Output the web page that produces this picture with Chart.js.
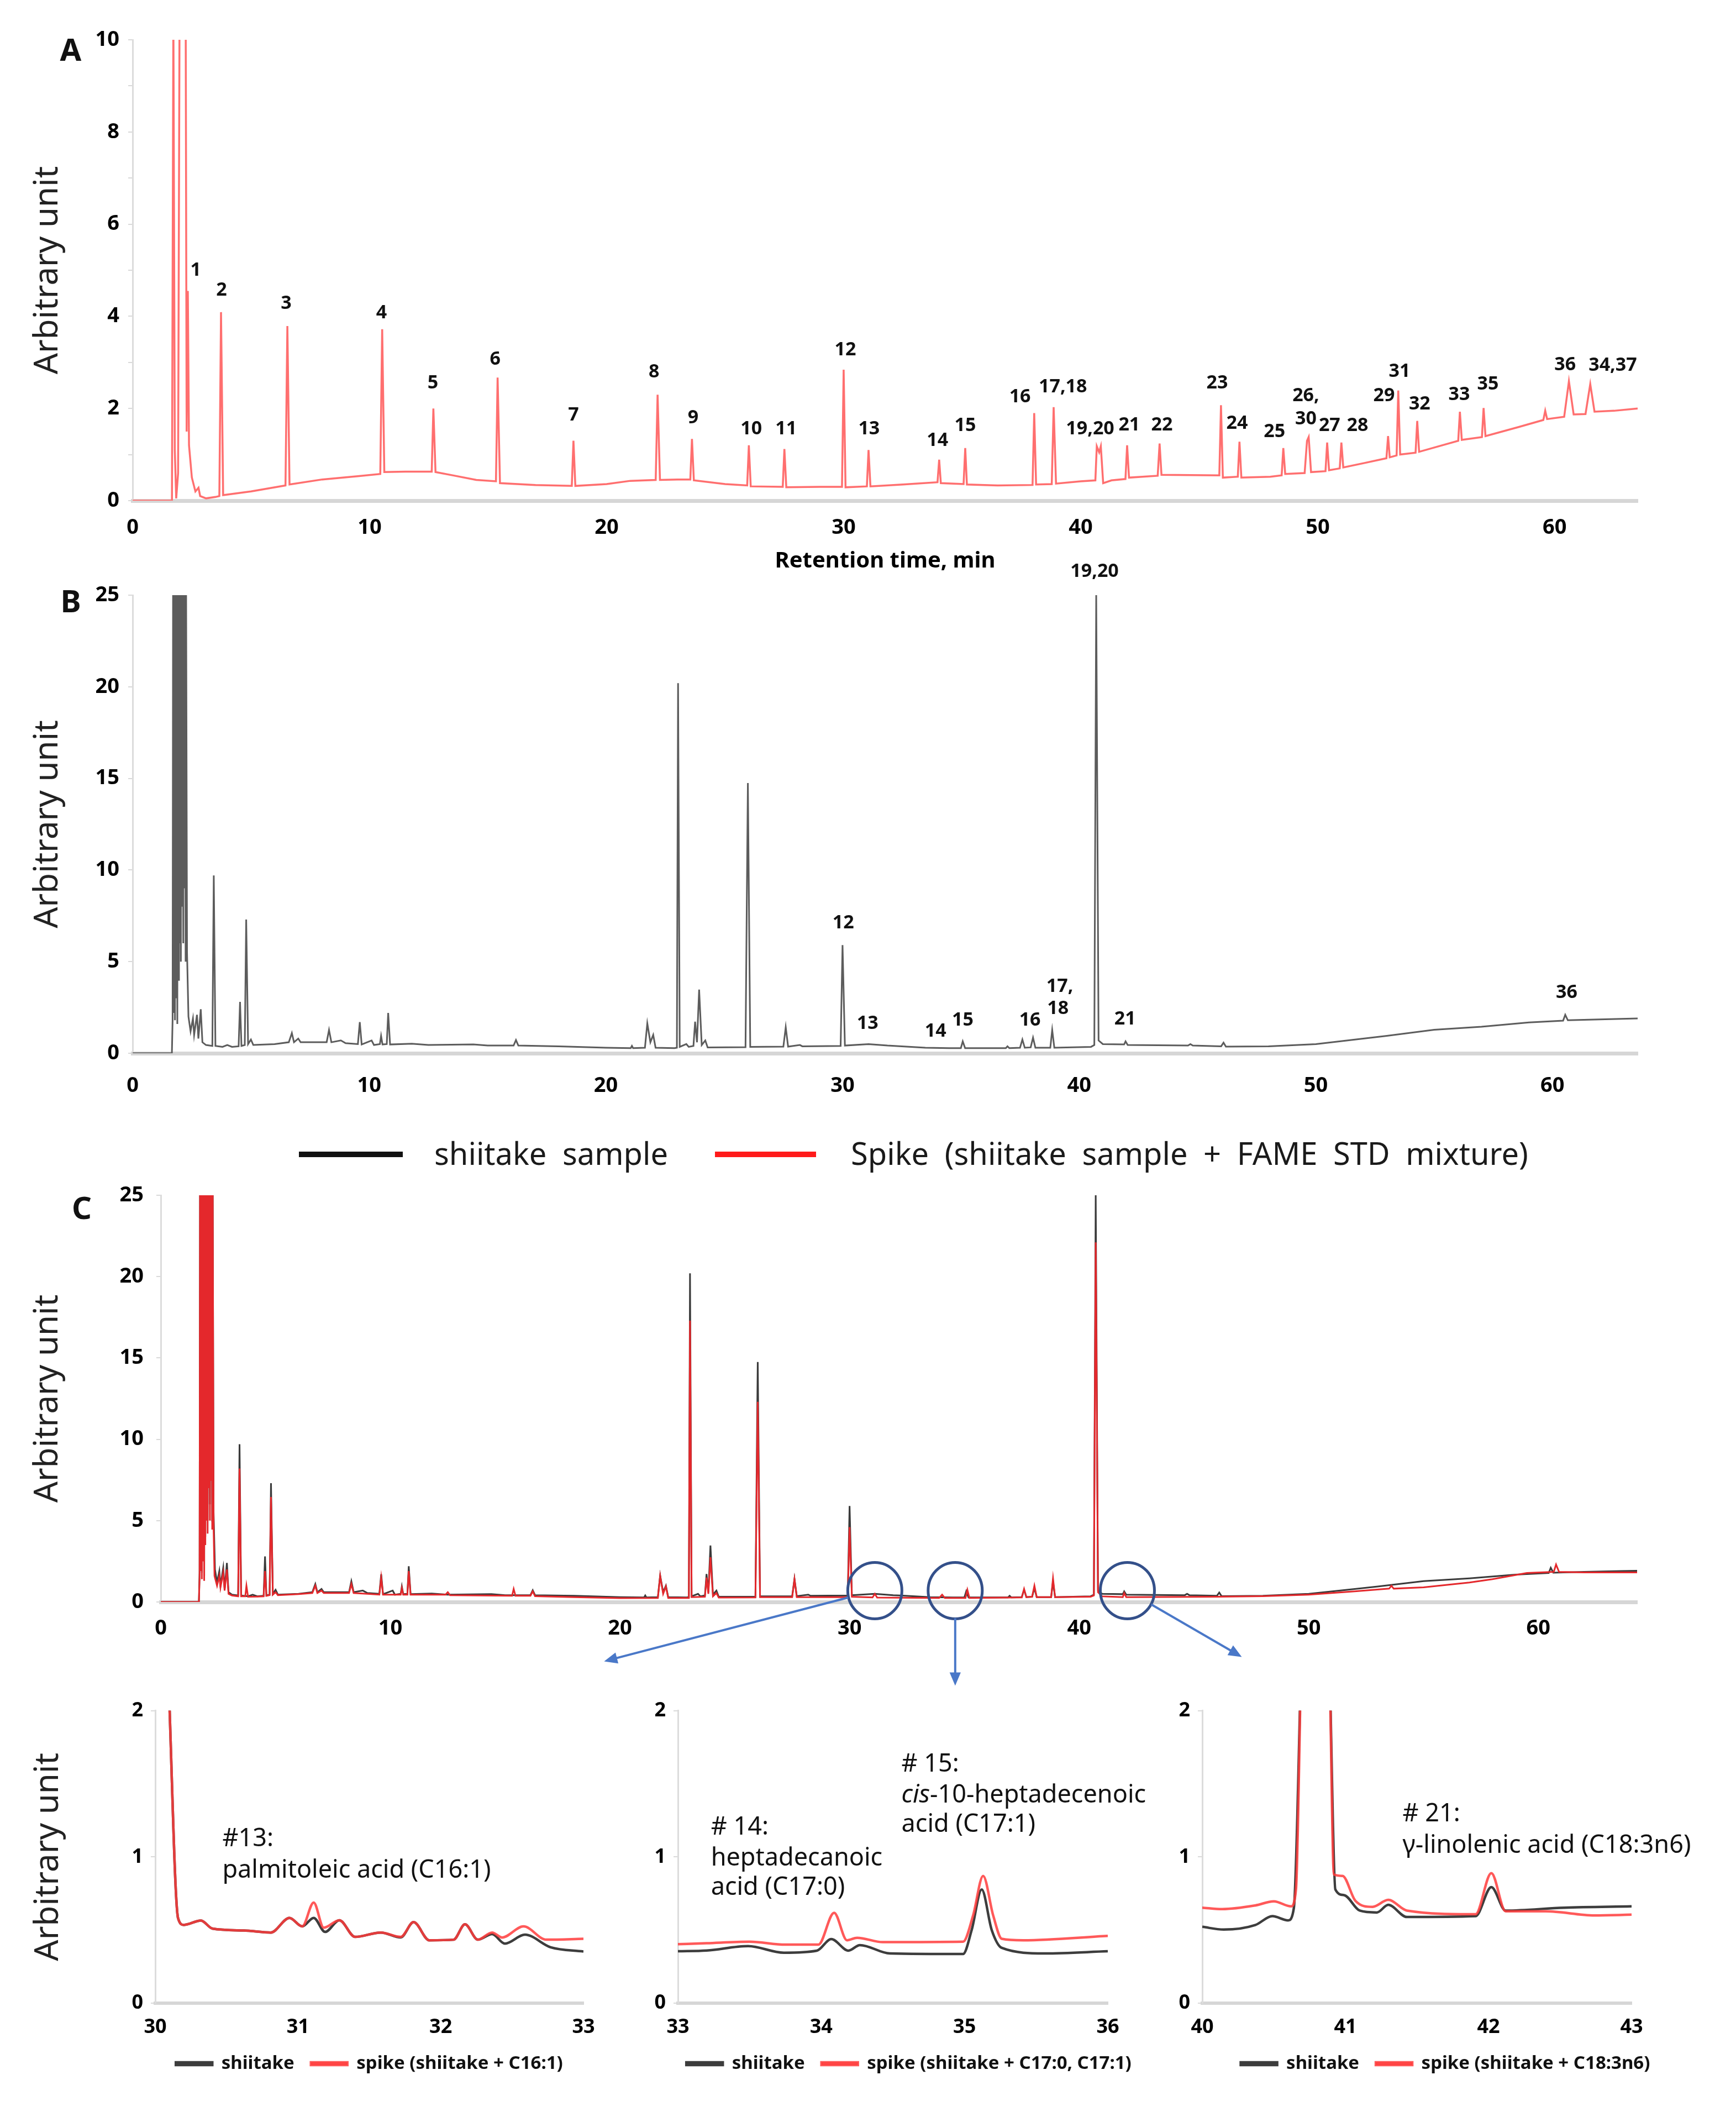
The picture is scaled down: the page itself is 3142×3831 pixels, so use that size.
<!DOCTYPE html>
<html>
<head>
<meta charset="utf-8">
<title>GC chromatograms - shiitake FAME</title>
<script src="https://cdn.jsdelivr.net/npm/chart.js@4.4.1/dist/chart.umd.min.js"></script>
<style>
  html, body { margin: 0; padding: 0; background: #fff; }
  #page { position: relative; width: 3142px; height: 3831px; overflow: hidden; font-family: 'Noto Sans', sans-serif; }
  .box { position: absolute; }
  .lgline { position: absolute; height: 10px; }
  .lgtext { position: absolute; font-size: 56px; line-height: 1; color: #1a1a1a; word-spacing: 14px; white-space: nowrap; transform: translateY(-55%); }
</style>
</head>
<body>
<div id="page">
  <div class="box" style="left:0;top:0;width:3142px;height:1040px"><canvas id="chartA"></canvas></div>
  <div class="box" style="left:0;top:1000px;width:3142px;height:1010px"><canvas id="chartB"></canvas></div>
  <div class="box" style="left:0;top:2010px;width:3142px;height:1060px"><canvas id="chartC"></canvas></div>
  <div class="box" style="left:0;top:3060px;width:1150px;height:771px"><canvas id="inset13"></canvas></div>
  <div class="box" style="left:1150px;top:3060px;width:1000px;height:771px"><canvas id="inset1415"></canvas></div>
  <div class="box" style="left:2100px;top:3060px;width:1042px;height:771px"><canvas id="inset21"></canvas></div>

  <div class="lgline" style="left:541px;top:2084px;width:188px;background:#111"></div>
  <div class="lgtext" style="left:786px;top:2089px">shiitake sample</div>
  <div class="lgline" style="left:1294px;top:2084px;width:183px;background:#ff1a1a"></div>
  <div class="lgtext" style="left:1540px;top:2089px">Spike (shiitake sample + FAME STD mixture)</div>
</div>
<script>
// ---- data: [retention time (min), signal] ----

// panel A: FAME standard mixture
const fameStdTrace = [
  [0, 0], [1.66, 0], [1.72, 10.5], [1.78, 1.1], [1.84, 0.05], [1.92, 0.6], [1.98, 10.5], [2.24, 10.5],
  [2.28, 1.5], [2.33, 4.55], [2.38, 1.2], [2.5, 0.5], [2.65, 0.2], [2.78, 0.28], [2.85, 0.1], [3.1, 0.05], [3.5, 0.08],
  [3.66, 0.1], [3.73, 4.09], [3.82, 0.12],
  [5, 0.2], [6.45, 0.33], [6.53, 3.79], [6.62, 0.35],
  [8, 0.46], [9.5, 0.53], [10.45, 0.58], [10.53, 3.72], [10.62, 0.62],
  [11.5, 0.63], [12.62, 0.63], [12.69, 2.0], [12.78, 0.62],
  [13.5, 0.55], [14.5, 0.45], [15.33, 0.42], [15.4, 2.67], [15.5, 0.38],
  [17, 0.34], [18.53, 0.32], [18.6, 1.3], [18.68, 0.32],
  [20, 0.36], [21, 0.43], [22.07, 0.45], [22.15, 2.3], [22.25, 0.45],
  [23, 0.46], [23.53, 0.46], [23.6, 1.34], [23.68, 0.44],
  [25, 0.36], [25.93, 0.33], [26.0, 1.2], [26.08, 0.31],
  [27.43, 0.3], [27.5, 1.12], [27.58, 0.29],
  [29, 0.3], [29.93, 0.3], [30.0, 2.84], [30.08, 0.29],
  [30.98, 0.31], [31.05, 1.1], [31.13, 0.31],
  [32.5, 0.35], [33.96, 0.4], [34.03, 0.89], [34.1, 0.38],
  [35.06, 0.36], [35.13, 1.14], [35.2, 0.35],
  [36.5, 0.33], [37.97, 0.34], [38.04, 1.9], [38.12, 0.35], [38.78, 0.36], [38.86, 2.03], [38.96, 0.37],
  [40.0, 0.42], [40.62, 0.44], [40.68, 1.18], [40.78, 1.05], [40.85, 1.18], [40.95, 0.38],
  [41.3, 0.44], [41.89, 0.47], [41.96, 1.2], [42.04, 0.5],
  [43.25, 0.54], [43.33, 1.24], [43.41, 0.56],
  [45.85, 0.55], [45.92, 2.07], [46.0, 0.5], [46.63, 0.52], [46.7, 1.28], [46.78, 0.5],
  [48.0, 0.52], [48.48, 0.55], [48.55, 1.14], [48.63, 0.58],
  [49.45, 0.6], [49.55, 1.3], [49.62, 1.38], [49.72, 0.62],
  [50.33, 0.64], [50.4, 1.26], [50.48, 0.66], [50.93, 0.7], [51.0, 1.26], [51.08, 0.72],
  [52.0, 0.82], [52.9, 0.92], [52.97, 1.4], [53.04, 0.94], [53.33, 0.98], [53.4, 2.39], [53.48, 1.0],
  [54.13, 1.04], [54.2, 1.73], [54.28, 1.06],
  [55.93, 1.3], [56.0, 1.93], [56.08, 1.32],
  [56.93, 1.38], [57.0, 2.01], [57.08, 1.4],
  [58.5, 1.6], [59.52, 1.75], [59.6, 1.95], [59.68, 1.77],
  [60.4, 1.82], [60.6, 2.59], [60.8, 1.87], [61.3, 1.88], [61.5, 2.53], [61.68, 1.93],
  [62.5, 1.95], [63.5, 2.0]
];

// panel B and black trace of panel C: shiitake sample
const shiitakeTrace = [
  [0, 0], [1.66, 0], [1.69, 1.8], [1.71, 26], [1.74, 2.2], [1.76, 26], [1.79, 1.8], [1.81, 26], [1.84, 3.0],
  [1.86, 26], [1.89, 1.6], [1.91, 26], [1.94, 4.0], [1.96, 26], [1.99, 6.0], [2.01, 26], [2.04, 5.0],
  [2.06, 26], [2.09, 8.0], [2.11, 26], [2.14, 6.0], [2.16, 26], [2.19, 9.0], [2.21, 26], [2.24, 5.0],
  [2.26, 26], [2.3, 5.5], [2.36, 2.0], [2.45, 1.2], [2.55, 1.9], [2.6, 1.0], [2.72, 2.1],
  [2.78, 0.8], [2.88, 2.4], [2.95, 0.6], [3.1, 0.45], [3.37, 0.4], [3.43, 9.7], [3.5, 0.4], [3.8, 0.35],
  [4.0, 0.45], [4.2, 0.35], [4.48, 0.38], [4.54, 2.8], [4.6, 0.4], [4.74, 0.45], [4.8, 7.3], [4.88, 0.5],
  [5.0, 0.75], [5.1, 0.45], [6.0, 0.5], [6.6, 0.6], [6.73, 1.1], [6.82, 0.6], [7.0, 0.8], [7.1, 0.6],
  [8.2, 0.6], [8.3, 1.27], [8.4, 0.6], [8.8, 0.7], [9.0, 0.55], [9.52, 0.5], [9.6, 1.7], [9.68, 0.48],
  [10.1, 0.7], [10.2, 0.45], [10.45, 0.5], [10.5, 0.95], [10.56, 0.48], [10.74, 0.5], [10.8, 2.2], [10.88, 0.48],
  [11.8, 0.52], [12.5, 0.45], [14.4, 0.48], [15, 0.42], [16.1, 0.42], [16.2, 0.72], [16.3, 0.42],
  [18, 0.38], [20, 0.3], [21.05, 0.28], [21.1, 0.4], [21.15, 0.28], [21.65, 0.3], [21.75, 1.63],
  [21.88, 0.6], [22.0, 1.0], [22.1, 0.3], [22.9, 0.28], [23.0, 0.3], [23.05, 20.2], [23.12, 0.35],
  [23.4, 0.5], [23.5, 0.35], [23.7, 0.4], [23.77, 1.72], [23.85, 0.6], [23.94, 3.47], [24.05, 0.45],
  [24.2, 0.7], [24.3, 0.32], [25.9, 0.33], [26.0, 14.75], [26.1, 0.35], [27.5, 0.36], [27.6, 1.42],
  [27.7, 0.36], [28.2, 0.45], [28.3, 0.38], [29.92, 0.4], [30.0, 5.9], [30.1, 0.42], [31.1, 0.5],
  [31.9, 0.42], [32.2, 0.4], [33.5, 0.3], [34.5, 0.28], [35.0, 0.28], [35.08, 0.65], [35.18, 0.28],
  [36.9, 0.28], [36.97, 0.38], [37.05, 0.28], [37.5, 0.3], [37.6, 0.75], [37.7, 0.3], [37.95, 0.32],
  [38.05, 0.85], [38.15, 0.3], [38.78, 0.3], [38.86, 1.27], [38.95, 0.3], [40.5, 0.35], [40.64, 0.45],
  [40.72, 25], [40.82, 0.7], [41.0, 0.5], [41.9, 0.48], [41.96, 0.65], [42.05, 0.45], [44.6, 0.42],
  [44.7, 0.5], [44.8, 0.42], [46.0, 0.38], [46.1, 0.58], [46.2, 0.36], [48, 0.38], [50, 0.5], [52, 0.8],
  [53, 0.95], [55, 1.28], [57, 1.45], [59, 1.68], [60.45, 1.78], [60.54, 2.1], [60.65, 1.8], [62, 1.85],
  [63.6, 1.9], [64.3, 1.92]
];

// panel C red trace: spike (shiitake sample + FAME STD mixture)
const spikeTrace = [
  [0, 0], [1.66, 0], [1.69, 1.5], [1.71, 26], [1.74, 1.9], [1.76, 26], [1.79, 1.4], [1.81, 26], [1.84, 2.5],
  [1.86, 26], [1.89, 1.3], [1.91, 26], [1.94, 3.5], [1.96, 26], [1.99, 5.0], [2.01, 26], [2.04, 4.2],
  [2.06, 26], [2.09, 7.0], [2.11, 26], [2.14, 5.0], [2.16, 26], [2.19, 7.5], [2.21, 26], [2.24, 4.5],
  [2.26, 26], [2.3, 4.5], [2.34, 1.6], [2.45, 1.0], [2.55, 1.6], [2.6, 0.9], [2.72, 1.8],
  [2.78, 0.7], [2.88, 2.0], [2.95, 0.5], [3.1, 0.4], [3.37, 0.35], [3.43, 8.2], [3.5, 0.35], [3.68, 0.35],
  [3.73, 1.0], [3.8, 0.32], [4.2, 0.33], [4.48, 0.35], [4.54, 1.9], [4.6, 0.38], [4.74, 0.42], [4.8, 6.45],
  [4.88, 0.45], [5.0, 0.6], [5.1, 0.42], [6.0, 0.48], [6.6, 0.55], [6.73, 1.0], [6.82, 0.55], [7.0, 0.7],
  [7.1, 0.55], [8.2, 0.55], [8.3, 1.1], [8.4, 0.55], [9.0, 0.5], [9.52, 0.45], [9.6, 1.5], [9.68, 0.45],
  [10.45, 0.45], [10.5, 0.85], [10.56, 0.45], [10.74, 0.45], [10.8, 1.9], [10.88, 0.45], [12.4, 0.45],
  [12.5, 0.6], [12.6, 0.42], [15.3, 0.38], [15.37, 0.8], [15.45, 0.38], [16.1, 0.38], [16.2, 0.65],
  [16.3, 0.36], [18, 0.3], [20, 0.24], [21.65, 0.25], [21.75, 1.6], [21.88, 0.5], [22.0, 0.95], [22.1, 0.25],
  [23.0, 0.25], [23.05, 17.3], [23.12, 0.3], [23.7, 0.32], [23.77, 1.5], [23.85, 0.5], [23.94, 2.75],
  [24.05, 0.35], [24.2, 0.55], [24.3, 0.27], [25.9, 0.28], [26.0, 12.3], [26.1, 0.3], [27.5, 0.3],
  [27.6, 1.4], [27.7, 0.3], [29.92, 0.3], [30.0, 4.6], [30.1, 0.32], [31.0, 0.28], [31.1, 0.5], [31.2, 0.27],
  [33.9, 0.25], [34.03, 0.45], [34.15, 0.25], [35.05, 0.25], [35.13, 0.75], [35.22, 0.25], [37.5, 0.28],
  [37.6, 0.8], [37.7, 0.3], [37.95, 0.32], [38.05, 1.0], [38.15, 0.3], [38.78, 0.3], [38.86, 1.45],
  [38.95, 0.3], [40.5, 0.32], [40.64, 0.4], [40.72, 22.1], [40.82, 0.6], [41.0, 0.35], [41.9, 0.3],
  [41.96, 0.55], [42.05, 0.3], [46, 0.32], [48, 0.36], [50, 0.45], [52, 0.65], [53.5, 0.82], [53.6, 1.0],
  [53.7, 0.82], [55, 0.9], [57, 1.2], [58, 1.4], [59.5, 1.78], [60.67, 1.85], [60.77, 2.3], [60.9, 1.85],
  [62, 1.82], [64.3, 1.82]
];

// zoomed windows
const inset13Shiitake = [
  [30.09, 2.3], [30.16, 0.58], [30.2, 0.535], [30.32, 0.565], [30.4, 0.51], [30.62, 0.497], [30.81, 0.483],
  [30.94, 0.583], [31.03, 0.525], [31.11, 0.583], [31.19, 0.487], [31.29, 0.567], [31.4, 0.453], [31.58, 0.483],
  [31.72, 0.45], [31.81, 0.554], [31.92, 0.43], [32.09, 0.434], [32.17, 0.539], [32.26, 0.434], [32.36, 0.472],
  [32.45, 0.407], [32.59, 0.468], [32.77, 0.382], [33.0, 0.353]
];
const inset13Spike = [
  [30.09, 2.3], [30.16, 0.58], [30.2, 0.535], [30.32, 0.565], [30.4, 0.51], [30.62, 0.497], [30.81, 0.483],
  [30.94, 0.583], [31.03, 0.525], [31.11, 0.688], [31.18, 0.516], [31.29, 0.567], [31.4, 0.453], [31.58, 0.483],
  [31.72, 0.453], [31.81, 0.554], [31.92, 0.43], [32.09, 0.434], [32.17, 0.539], [32.26, 0.434], [32.36, 0.483],
  [32.43, 0.449], [32.58, 0.525], [32.74, 0.434], [33.0, 0.44]
];
const inset1415Shiitake = [
  [33.0, 0.355], [33.2, 0.36], [33.49, 0.39], [33.74, 0.345], [33.97, 0.359], [34.07, 0.438], [34.19, 0.359],
  [34.27, 0.397], [34.48, 0.34], [34.99, 0.336], [35.05, 0.5], [35.12, 0.777], [35.19, 0.5], [35.26, 0.378],
  [35.56, 0.34], [36.0, 0.355]
];
const inset1415Spike = [
  [33.0, 0.403], [33.2, 0.41], [33.5, 0.42], [33.75, 0.4], [33.98, 0.4], [34.09, 0.618], [34.18, 0.43],
  [34.25, 0.447], [34.43, 0.417], [34.99, 0.42], [35.06, 0.6], [35.13, 0.87], [35.2, 0.6], [35.26, 0.44],
  [35.41, 0.43], [36.0, 0.46]
];
const inset21Shiitake = [
  [40.0, 0.522], [40.15, 0.503], [40.37, 0.534], [40.49, 0.595], [40.6, 0.566], [40.64, 0.65], [40.69, 2.3],
  [40.79, 6], [40.89, 2.3], [40.93, 0.777], [40.99, 0.739], [41.1, 0.633], [41.22, 0.62], [41.3, 0.672],
  [41.43, 0.589], [41.91, 0.595], [42.02, 0.793], [42.12, 0.633], [42.53, 0.653], [43.0, 0.662]
];
const inset21Spike = [
  [40.0, 0.653], [40.14, 0.643], [40.37, 0.668], [40.5, 0.696], [40.62, 0.662], [40.655, 0.78], [40.69, 2.3],
  [40.79, 6], [40.89, 2.3], [40.92, 0.88], [40.98, 0.87], [41.07, 0.7], [41.19, 0.658], [41.3, 0.706],
  [41.43, 0.633], [41.91, 0.608], [42.02, 0.889], [42.12, 0.628], [42.4, 0.628], [42.74, 0.6], [43.0, 0.605]
];

// peak numbers [text, time, signal]
const peakLabelsA = [
  ['1', 2.66, 5.0], ['2', 3.75, 4.56], ['3', 6.48, 4.28], ['4', 10.5, 4.07], ['5', 12.67, 2.55],
  ['6', 15.3, 3.06], ['7', 18.6, 1.85], ['8', 22.0, 2.79], ['9', 23.65, 1.8], ['10', 26.1, 1.55],
  ['11', 27.57, 1.55], ['12', 30.07, 3.27], ['13', 31.07, 1.55], ['14', 33.96, 1.3], ['15', 35.13, 1.63],
  ['16', 37.44, 2.25], ['17,18', 39.25, 2.47], ['19,20', 40.4, 1.55], ['21', 42.05, 1.64], ['22', 43.43, 1.64],
  ['23', 45.76, 2.55], ['24', 46.6, 1.68], ['25', 48.18, 1.49], ['26,', 49.5, 2.27], ['30', 49.5, 1.77],
  ['27', 50.5, 1.63], ['28', 51.68, 1.63], ['29', 52.8, 2.28], ['31', 53.45, 2.8], ['32', 54.3, 2.09],
  ['33', 55.97, 2.3], ['35', 57.18, 2.53], ['36', 60.44, 2.95], ['34,37', 62.45, 2.93]
];
const peakLabelsB = [
  ['12', 30.03, 7.1], ['13', 31.06, 1.63], ['14', 33.93, 1.2], ['15', 35.08, 1.8], ['16', 37.92, 1.8],
  ['17,', 39.18, 3.65], ['18', 39.1, 2.44], ['19,20', 40.65, 26.3], ['21', 41.94, 1.87], ['36', 60.6, 3.3]
];

// inset notes [text, time, signal]; *...* is italic
const notes13 = [['#13:', 30.47, 1.12], ['palmitoleic acid (C16:1)', 30.47, 0.905]];
const notes1415 = [
  ['# 14:', 33.23, 1.2], ['heptadecanoic', 33.23, 0.99], ['acid (C17:0)', 33.23, 0.79],
  ['# 15:', 34.56, 1.63], ['*cis*-10-heptadecenoic', 34.56, 1.42], ['acid (C17:1)', 34.56, 1.22]
];
const notes21 = [['# 21:', 41.4, 1.29], ['\u03b3-linolenic acid (C18:3n6)', 41.4, 1.075]];

// circled regions in panel C [time, signal] and where their arrows point (px offset)
const zoomCircles = [[31.1, 0.7], [34.6, 0.7], [42.1, 0.7]];
const arrowTips = [[-490, 128], [0, 172], [207, 120]];

// ---- drawing ----
Chart.defaults.font.family = "'Noto Sans', sans-serif";
Chart.defaults.color = '#000';

function notesPlugin(letter, labels, font, align) {
  return {
    id: 'notes',
    afterDatasetsDraw(chart) {
      const { ctx, scales: { x, y } } = chart;
      ctx.save();
      ctx.fillStyle = '#111';
      ctx.textBaseline = 'middle';
      if (letter) {
        ctx.font = "bold 56px 'Noto Sans'";
        ctx.textAlign = 'center';
        ctx.fillText(letter[0], letter[1], letter[2]);
      }
      labels.forEach(([text, t, v]) => {
        let px = x.getPixelForValue(t);
        const py = y.getPixelForValue(v);
        const parts = text.split('*');
        if (parts.length === 1) {
          ctx.font = font;
          ctx.textAlign = align;
          ctx.fillText(text, px, py);
          return;
        }
        ctx.textAlign = 'left';
        parts.forEach((p, i) => {
          ctx.font = (i % 2 ? 'italic ' : '') + font;
          ctx.fillText(p, px, py);
          px += ctx.measureText(p).width;
        });
      });
      ctx.restore();
    }
  };
}

const circlesPlugin = {
  id: 'circles',
  afterDraw(chart) {
    const { ctx, scales: { x, y } } = chart;
    ctx.save();
    zoomCircles.forEach(([t, v], i) => {
      const cx = x.getPixelForValue(t), cy = y.getPixelForValue(v);
      ctx.strokeStyle = '#34508a';
      ctx.lineWidth = 5;
      ctx.beginPath();
      ctx.ellipse(cx, cy, 49, 51, 0, 0, Math.PI * 2);
      ctx.stroke();

      const [dx, dy] = arrowTips[i];
      const ang = Math.atan2(dy, dx);
      const x0 = cx + Math.cos(ang) * 50, y0 = cy + Math.sin(ang) * 50;
      const x1 = cx + dx, y1 = cy + dy;
      const head = 26;
      ctx.strokeStyle = '#4a78c8';
      ctx.fillStyle = '#4a78c8';
      ctx.lineWidth = 4;
      ctx.beginPath();
      ctx.moveTo(x0, y0);
      ctx.lineTo(x1 - Math.cos(ang) * head * 0.8, y1 - Math.sin(ang) * head * 0.8);
      ctx.stroke();
      ctx.beginPath();
      ctx.moveTo(x1, y1);
      ctx.lineTo(x1 - head * Math.cos(ang - 0.4), y1 - head * Math.sin(ang - 0.4));
      ctx.lineTo(x1 - head * Math.cos(ang + 0.4), y1 - head * Math.sin(ang + 0.4));
      ctx.closePath();
      ctx.fill();
    });
    ctx.restore();
  }
};

function trace(data, color, width, order) {
  return { data, borderColor: color, backgroundColor: color, borderWidth: width, pointRadius: 0, fill: false, order };
}

function mainChart(id, c) {
  return new Chart(document.getElementById(id), {
    type: 'line',
    data: { datasets: c.datasets },
    options: {
      responsive: true,
      maintainAspectRatio: false,
      animation: false,
      layout: { padding: c.padding },
      plugins: { legend: { display: false }, tooltip: { enabled: false } },
      scales: {
        x: {
          type: 'linear', min: 0, max: c.xMax,
          afterFit: s => { s.height = c.xHeight; },
          grid: { display: false, drawTicks: false },
          border: { color: '#d6d6d6', width: 7 },
          ticks: { stepSize: 10, includeBounds: false, padding: c.xPad, font: { size: 38, weight: 'bold' } },
          title: c.xTitle
            ? { display: true, text: c.xTitle, font: { size: 40, weight: 'bold' }, padding: { top: 0, bottom: 0 } }
            : { display: false }
        },
        y: {
          min: 0, max: c.yMax,
          afterFit: s => { s.width = c.yWidth; },
          grid: { drawOnChartArea: false, tickLength: 8, color: '#d9d9d9', lineWidth: 2 },
          border: { color: '#dcdcdc', width: 3 },
          ticks: { stepSize: c.yStep, padding: c.yPad, font: { size: 38, weight: 'bold' }, callback: c.yLabel },
          title: { display: true, text: 'Arbitrary unit', font: { size: 60 }, color: '#222', padding: { top: 51, bottom: 0 } }
        }
      }
    },
    plugins: c.plugins
  });
}

mainChart('chartA', {
  datasets: [trace(fameStdTrace, '#ff6f6f', 3.5, 1)],
  padding: { left: 0, right: 178, top: 72, bottom: 0 },
  xMax: 63.5, xHeight: 134, xPad: 26, xTitle: 'Retention time, min',
  yMax: 10, yStep: 1, yWidth: 240, yPad: 16,
  yLabel: v => (v % 2 === 0 ? v : ''),
  plugins: [notesPlugin(['A', 128, 94], peakLabelsA, "bold 34px 'Noto Sans'", 'center')]
});

mainChart('chartB', {
  datasets: [trace(shiitakeTrace, '#5c5c5c', 3, 1)],
  padding: { left: 0, right: 178, top: 77, bottom: 0 },
  xMax: 63.6, xHeight: 104, xPad: 36,
  yMax: 25, yStep: 5, yWidth: 240, yPad: 16,
  plugins: [notesPlugin(['B', 128, 92], peakLabelsB, "bold 34px 'Noto Sans'", 'center')]
});

mainChart('chartC', {
  datasets: [trace(shiitakeTrace, '#3a3a3a', 3, 2), trace(spikeTrace, '#e4282c', 3, 1)],
  padding: { left: 0, right: 179, top: 153, bottom: 100 },
  xMax: 64.3, xHeight: 71, xPad: 25,
  yMax: 25, yStep: 5, yWidth: 291, yPad: 23,
  plugins: [notesPlugin(['C', 148, 180], [], '', 'center'), circlesPlugin]
});

function inset(id, c) {
  return new Chart(document.getElementById(id), {
    type: 'line',
    data: {
      datasets: [
        Object.assign(trace(c.shiitake, '#3d3d3d', 4.5, 2), { label: 'shiitake', cubicInterpolationMode: 'monotone' }),
        Object.assign(trace(c.spike, 'rgba(255,60,60,0.85)', 4.5, 1), { label: c.spikeLabel, cubicInterpolationMode: 'monotone' })
      ]
    },
    options: {
      responsive: true,
      maintainAspectRatio: false,
      animation: false,
      layout: { padding: { left: 0, right: 10, top: 30, bottom: 70 } },
      plugins: {
        tooltip: { enabled: false },
        legend: {
          position: 'bottom', fullSize: c.wideLegend,
          labels: {
            boxWidth: 66, boxHeight: 5, padding: 30, color: '#111',
            font: { size: 33, weight: 'bold' },
            sort: (a, b) => a.datasetIndex - b.datasetIndex
          }
        }
      },
      scales: {
        x: {
          type: 'linear', min: c.xMin, max: c.xMin + 3,
          afterFit: s => { s.height = 63; },
          grid: { display: false, drawTicks: false },
          border: { color: '#d6d6d6', width: 6 },
          ticks: { stepSize: 1, padding: 22, font: { size: 36, weight: 'bold' } }
        },
        y: {
          min: 0, max: 2,
          afterFit: s => { s.width = c.left; },
          grid: { drawOnChartArea: false, tickLength: 8, color: '#d9d9d9', lineWidth: 2 },
          border: { color: '#dcdcdc', width: 3 },
          ticks: { stepSize: 1, padding: 14, font: { size: 36, weight: 'bold' } },
          title: { display: c.yTitle, text: 'Arbitrary unit', font: { size: 60 }, color: '#222', padding: { top: 52, bottom: 0 } }
        },
        // empty right-hand margin so the legend below may run wider than the plot
        gutter: {
          position: 'right',
          afterFit: s => { s.width = c.right - 10; },
          grid: { display: false, drawTicks: false },
          border: { display: false },
          ticks: { display: false }
        }
      }
    },
    plugins: [notesPlugin(null, c.notes, "45px 'Noto Sans'", 'left')]
  });
}

inset('inset13', {
  shiitake: inset13Shiitake, spike: inset13Spike, spikeLabel: 'spike (shiitake + C16:1)',
  xMin: 30, left: 281, right: 94, yTitle: true, wideLegend: false, notes: notes13
});
inset('inset1415', {
  shiitake: inset1415Shiitake, spike: inset1415Spike, spikeLabel: 'spike (shiitake + C17:0, C17:1)',
  xMin: 33, left: 77, right: 145, yTitle: false, wideLegend: true, notes: notes1415
});
inset('inset21', {
  shiitake: inset21Shiitake, spike: inset21Spike, spikeLabel: 'spike (shiitake + C18:3n6)',
  xMin: 40, left: 76, right: 189, yTitle: false, wideLegend: true, notes: notes21
});
</script>
</body>
</html>
